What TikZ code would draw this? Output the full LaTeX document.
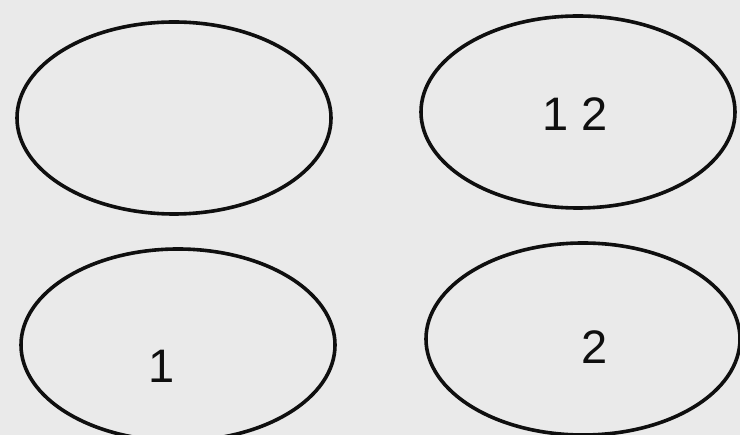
\documentclass[tikz,border=0pt]{standalone}
\usepackage{fontspec}
\setmainfont{Liberation Sans}
\usetikzlibrary{shapes.geometric}
\definecolor{paper}{RGB}{234,234,234}
\definecolor{ink}{RGB}{15,15,15}

\begin{document}
\begin{tikzpicture}[x=1pt, y=-1pt,
    set/.style={ellipse, draw=ink, line width=3.6pt, inner sep=0pt,
      minimum width=314pt, minimum height=192pt},
    digit/.style={text=ink, inner sep=0pt, font=\fontsize{47}{47}\selectfont}]
  \fill[paper] (0,0) rectangle (740,435);
  \useasboundingbox (0,0) rectangle (740,435);
  % the four sets
  \node[set] (empty) at (174,118) {};
  \node[set] (both) at (578,112) {};
  \node[set] (one) at (178,345) {};
  \node[set] (two) at (583,339) {};
  % their elements
  \node[digit] (bothlab) at (575,114) {1 2};
  \node[digit] (onelab) at (162,366) {1};
  \node[digit] (twolab) at (595,347) {2};
\end{tikzpicture}
\end{document}
